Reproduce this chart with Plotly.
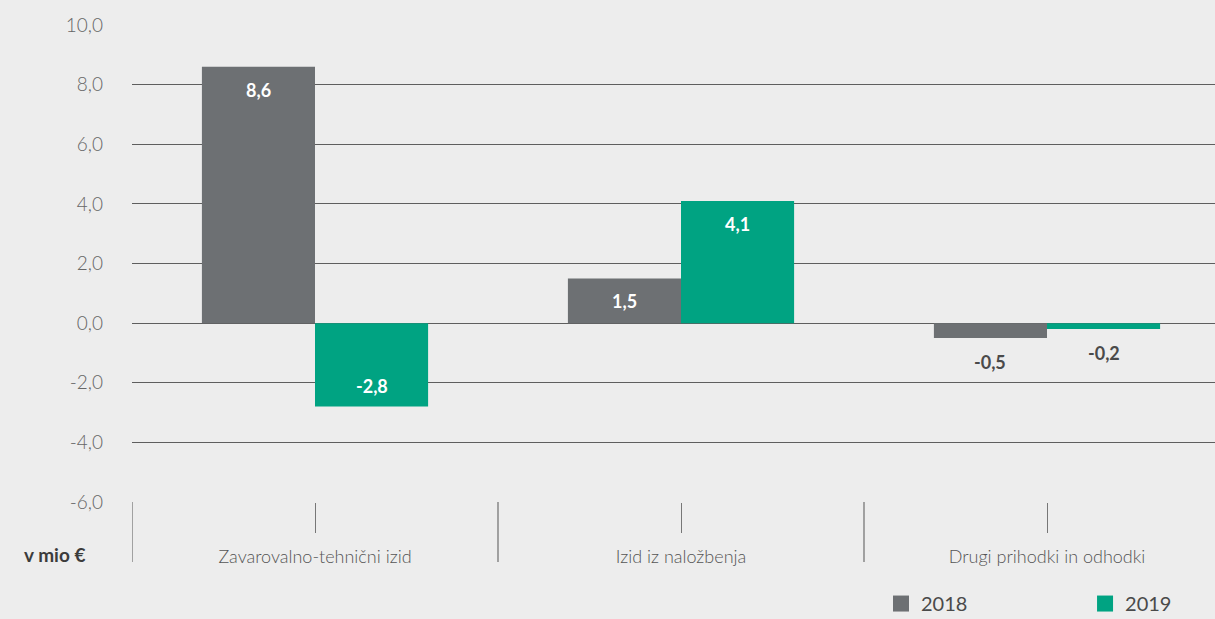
import plotly.graph_objects as go

categories = ["Zavarovalno-tehnični izid", "Izid iz naložbenja", "Drugi prihodki in odhodki"]
values_2018 = [8.6, 1.5, -0.5]
values_2019 = [-2.8, 4.1, -0.2]
series_names = ["2018", "2019"]
y_ticks = [-6, -4, -2, 0, 2, 4, 6, 8, 10]
y_tick_text = ["-6,0", "-4,0", "-2,0", "0,0", "2,0", "4,0", "6,0", "8,0", "10,0"]
unit_label = "v mio €"

col_2018 = "#6d7073"
col_2019 = "#00a382"
bg = "#ededed"
font_fam = "Lato, 'Open Sans', sans-serif"
bargap = 0.382
half_bar = (1 - bargap) / 4


def fmt(v):
    return f"{v:.1f}".replace(".", ",")


fig = go.Figure()
series = [(series_names[0], values_2018, col_2018, "legend", -1),
          (series_names[1], values_2019, col_2019, "legend2", 1)]
for name, vals, col, lg, side in series:
    fig.add_trace(go.Bar(
        name=name, x=list(range(len(categories))), y=vals,
        marker=dict(color=col, line=dict(width=0)),
        showlegend=False, hoverinfo="skip",
    ))
    # legend entry with a larger square symbol
    fig.add_trace(go.Scatter(
        name=name, x=[None], y=[None], mode="markers",
        marker=dict(symbol="square", size=20, color=col),
        legend=lg, showlegend=True,
    ))
    # value labels
    for i, v in enumerate(vals):
        inside = abs(v) >= 1
        if inside:
            shift = -23 if v > 0 else 21
            color = "white"
        else:
            shift = -24 if v < 0 else 24
            color = "#4a4a4a"
        fig.add_annotation(
            x=i + side * half_bar, y=v, xref="x", yref="y",
            text="<b>" + fmt(v) + "</b>", showarrow=False,
            xanchor="center", yanchor="middle", yshift=shift,
            font=dict(size=18, color=color, family=font_fam),
        )

# category separators below the plot
for i in range(len(categories)):
    fig.add_shape(type="line", xref="x", yref="paper", x0=i - 0.5, x1=i - 0.5,
                  y0=0, y1=-0.126, line=dict(color="#777777", width=1.3))

fig.add_annotation(text="<b>" + unit_label + "</b>", xref="paper", yref="paper",
                   x=-0.072, y=-0.111, xanchor="center", yanchor="middle", showarrow=False,
                   font=dict(size=19, color="#3c3c3c", family=font_fam))

leg_common = dict(orientation="h", y=-0.172, xanchor="left", yanchor="top",
                  font=dict(size=20, color="#4a4a4a", family=font_fam),
                  bgcolor="rgba(0,0,0,0)")

fig.update_layout(
    width=1215, height=619,
    paper_bgcolor=bg, plot_bgcolor=bg,
    margin=dict(l=132, r=0, t=25, b=117, autoexpand=False),
    barmode="group", bargap=bargap, bargroupgap=0,
    separators=",.",
    font=dict(family=font_fam, color="#666666"),
    showlegend=True,
    legend=dict(x=0.6916, **leg_common),
    legend2=dict(x=0.880, **leg_common),
    xaxis=dict(
        range=[-0.5, 2.459], tickvals=list(range(len(categories))), ticktext=categories,
        ticks="outside", ticklen=30, tickwidth=1.3, tickcolor="#777777",
        ticklabelstandoff=8,
        tickfont=dict(size=18, color="#555555", family=font_fam, weight=300),
        showgrid=False, zeroline=False, showline=False,
    ),
    yaxis=dict(
        range=[-6, 10], tickvals=y_ticks, ticktext=y_tick_text,
        tickfont=dict(size=19, color="#666666", family=font_fam, weight=300),
        showgrid=True, gridcolor="#5e5e5e", gridwidth=1.3,
        zeroline=True, zerolinecolor="#5e5e5e", zerolinewidth=1.3,
        ticklabelstandoff=28, showline=False,
    ),
)

fig.write_html("out.html", config={"displayModeBar": False},
               post_script="document.body.style.margin='0';document.body.style.overflow='hidden';")
